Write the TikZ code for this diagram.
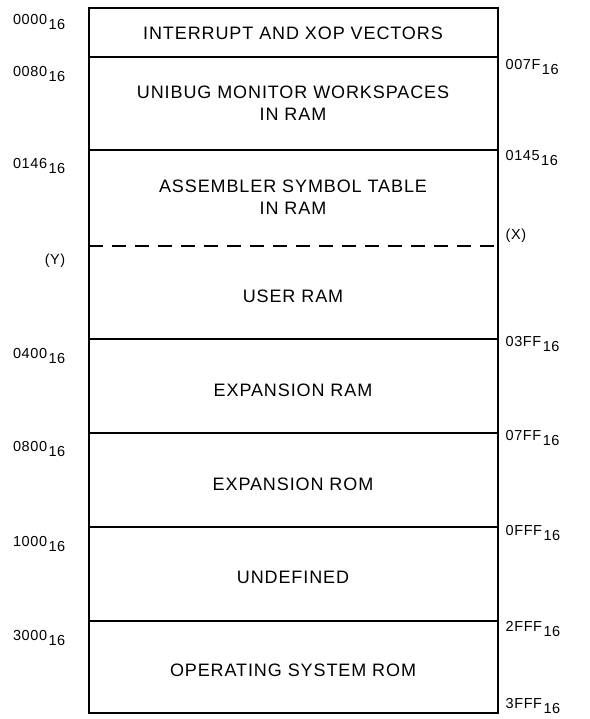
\documentclass[tikz,border=0pt]{standalone}
\usepackage{fontspec}
\setmainfont{Liberation Sans}
\usetikzlibrary{positioning}

\newcommand{\hexaddr}[1]{#1\kern1.5pt\raisebox{-0.75ex}{16}}

\begin{document}
\begin{tikzpicture}[x=1pt,y=-1pt,line width=1.4pt,
    area/.style={font=\fontsize{18}{22}\selectfont\addfontfeature{LetterSpace=5},align=center,inner sep=0pt},
    addrl/.style={font=\fontsize{14.5}{17}\selectfont\addfontfeature{LetterSpace=4},anchor=east,inner sep=0pt},
    addrr/.style={font=\fontsize{14.5}{17}\selectfont\addfontfeature{LetterSpace=4},anchor=west,inner sep=0pt}]
    \useasboundingbox (0,0) rectangle (589,719);

    % memory map outline
    \coordinate (top) at (89,8);
    \coordinate (bot) at (498,713);
    \draw (top) rectangle (bot);
    \foreach \y [count=\i] in {57,150,339,433,527,621} {
        \coordinate (L\i) at (89,\y);
        \coordinate (R\i) at (498,\y);
        \draw (L\i) -- (R\i);
    }
    \coordinate (Ly) at (89,246);
    \coordinate (Ry) at (498,246);
    \draw[dash pattern=on 14pt off 9pt] (Ly) -- (Ry);

    % areas
    \node[area] (vec)  at (293,33)  {INTERRUPT AND XOP VECTORS};
    \node[area] (mon)  at (293,103) {UNIBUG MONITOR WORKSPACES\\IN RAM};
    \node[area] (sym)  at (293,197) {ASSEMBLER SYMBOL TABLE\\IN RAM};
    \node[area] (usr)  at (293,296) {USER RAM};
    \node[area] (xram) at (293,390) {EXPANSION RAM};
    \node[area] (xrom) at (293,484) {EXPANSION ROM};
    \node[area] (und)  at (293,577) {UNDEFINED};
    \node[area] (os)   at (293,670) {OPERATING SYSTEM ROM};

    % start addresses
    \node[addrl] (s0) at (66,22)  {\hexaddr{0000}};
    \node[addrl] (s1) at (66,74)  {\hexaddr{0080}};
    \node[addrl] (s2) at (66,166) {\hexaddr{0146}};
    \node[addrl] (s3) at (66,261) {(Y)};
    \node[addrl] (s4) at (66,356) {\hexaddr{0400}};
    \node[addrl] (s5) at (66,449) {\hexaddr{0800}};
    \node[addrl] (s6) at (66,544) {\hexaddr{1000}};
    \node[addrl] (s7) at (66,638) {\hexaddr{3000}};

    % end addresses
    \node[addrr] (e0) at (505,67)  {\hexaddr{007F}};
    \node[addrr] (e1) at (505,158) {\hexaddr{0145}};
    \node[addrr] (e2) at (505,236) {(X)};
    \node[addrr] (e3) at (505,344) {\hexaddr{03FF}};
    \node[addrr] (e4) at (505,438) {\hexaddr{07FF}};
    \node[addrr] (e5) at (505,533) {\hexaddr{0FFF}};
    \node[addrr] (e6) at (505,629) {\hexaddr{2FFF}};
    \node[addrr] (e7) at (505,706) {\hexaddr{3FFF}};
\end{tikzpicture}
\end{document}
